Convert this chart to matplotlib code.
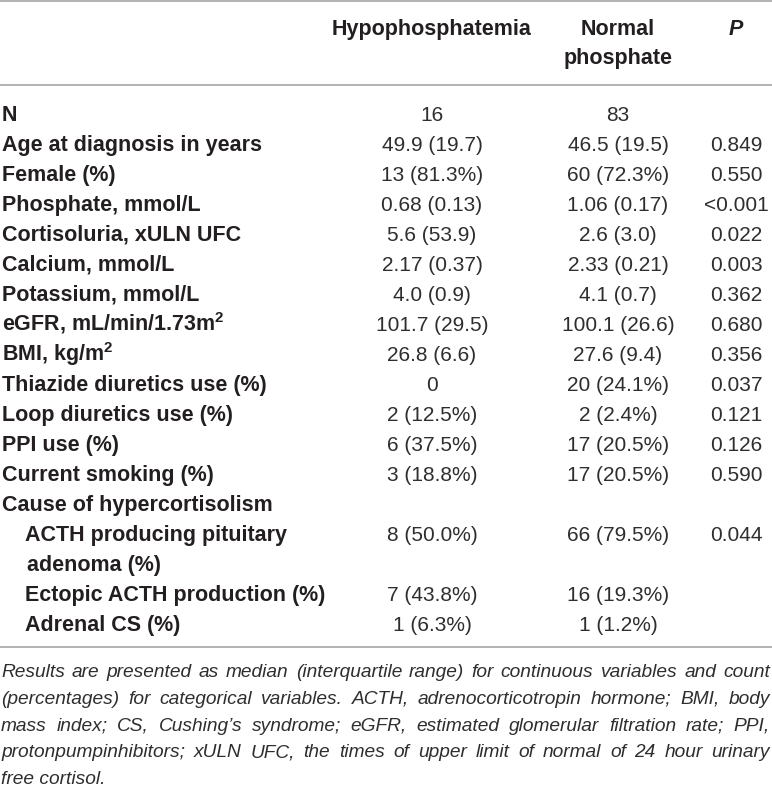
import matplotlib
matplotlib.use("Agg")
import matplotlib.pyplot as plt

# table content
col_headers = ["Hypophosphatemia", "Normal\nphosphate", "P"]
row_labels = [
    "N", "Age at diagnosis in years", "Female (%)", "Phosphate, mmol/L",
    "Cortisoluria, xULN UFC", "Calcium, mmol/L", "Potassium, mmol/L",
    r"eGFR, mL/min/1.73m$^{\mathbf{2}}$", r"BMI, kg/m$^{\mathbf{2}}$",
    "Thiazide diuretics use (%)",
    "Loop diuretics use (%)", "PPI use (%)", "Current smoking (%)",
    "Cause of hypercortisolism", "ACTH producing pituitary\nadenoma (%)",
    "Ectopic ACTH production (%)", "Adrenal CS (%)",
]
indented = [False] * 14 + [True, True, True]
hypo_vals = [
    "16", "49.9 (19.7)", "13 (81.3%)", "0.68 (0.13)", "5.6 (53.9)",
    "2.17 (0.37)", "4.0 (0.9)", "101.7 (29.5)", "26.8 (6.6)", "0",
    "2 (12.5%)", "6 (37.5%)", "3 (18.8%)", "", "8 (50.0%)", "7 (43.8%)",
    "1 (6.3%)",
]
normal_vals = [
    "83", "46.5 (19.5)", "60 (72.3%)", "1.06 (0.17)", "2.6 (3.0)",
    "2.33 (0.21)", "4.1 (0.7)", "100.1 (26.6)", "27.6 (9.4)", "20 (24.1%)",
    "2 (2.4%)", "17 (20.5%)", "17 (20.5%)", "", "66 (79.5%)", "16 (19.3%)",
    "1 (1.2%)",
]
p_vals = [
    "", "0.849", "0.550", "<0.001", "0.022", "0.003", "0.362", "0.680",
    "0.356", "0.037", "0.121", "0.126", "0.590", "", "0.044", "", "",
]
note_lines = [
    "Results are presented as median (interquartile range) for continuous variables and count",
    "(percentages) for categorical variables. ACTH, adrenocorticotropin hormone; BMI, body",
    "mass index; CS, Cushing’s syndrome; eGFR, estimated glomerular filtration rate; PPI,",
    "protonpumpinhibitors; xULN UFC, the times of upper limit of normal of 24 hour urinary",
    "free cortisol.",
]

W, H = 772, 792
txt_color = "#231f20"
val_color = "#2e2e2e"
rule_color = "#a6a6a6"
plt.rcParams["font.family"] = ["Liberation Sans", "DejaVu Sans"]
plt.rcParams["mathtext.fontset"] = "custom"
plt.rcParams["mathtext.rm"] = "Liberation Sans"
plt.rcParams["mathtext.bf"] = "Liberation Sans:bold"

fig = plt.figure(figsize=(W / 100, H / 100), dpi=100)
ax = fig.add_axes([0, 0, 1, 1])
ax.set_xlim(0, W)
ax.set_ylim(H, 0)
ax.axis("off")

col_x = [432, 618, 736]
label_x = 2
indent_x = 25
row_y0 = 121
row_dy = 30

# rules
for y in [1, 85, 647]:
    ax.plot([0, W], [y, y], color=rule_color, lw=1.2, solid_capstyle="butt")

# header
for i, h in enumerate(col_headers):
    lines = h.split("\n")
    for j, line in enumerate(lines):
        ax.text(col_x[i], 35 + j * 29, line, ha="center", va="baseline",
                fontsize=15.5, fontweight="bold", color=txt_color,
                fontstyle="italic" if h == "P" else "normal")

# body
line_no = 0
for k, label in enumerate(row_labels):
    y = row_y0 + line_no * row_dy
    parts = label.split("\n")
    for j, part in enumerate(parts):
        x = label_x
        if indented[k]:
            x = indent_x + (2 if j > 0 else 0)
        ax.text(x, y + j * row_dy, part, ha="left", va="baseline",
                fontsize=15.5, fontweight="bold", color=txt_color)
    for vals, cx in zip([hypo_vals, normal_vals, p_vals], col_x):
        if vals[k]:
            ax.text(cx, y, vals[k], ha="center", va="baseline",
                    fontsize=15, color=val_color)
    line_no += len(parts)

# footnote, justified
renderer = fig.canvas.get_renderer()
note_y0 = 677
note_dy = 26.8
note_size = 13.8
left, right = 1, 770
for i, line in enumerate(note_lines):
    y = note_y0 + i * note_dy
    if i == len(note_lines) - 1:
        ax.text(left, y, line, ha="left", va="baseline", fontsize=note_size,
                fontstyle="italic", color=val_color)
        continue
    words = line.split()
    texts = [ax.text(0, y, w, ha="left", va="baseline", fontsize=note_size,
                     fontstyle="italic", color=val_color) for w in words]
    widths = [t.get_window_extent(renderer).width for t in texts]
    gap = (right - left - sum(widths)) / (len(words) - 1)
    x = left
    for t, w in zip(texts, widths):
        t.set_x(x)
        x += w + gap

fig.savefig("out.png", dpi=100)
